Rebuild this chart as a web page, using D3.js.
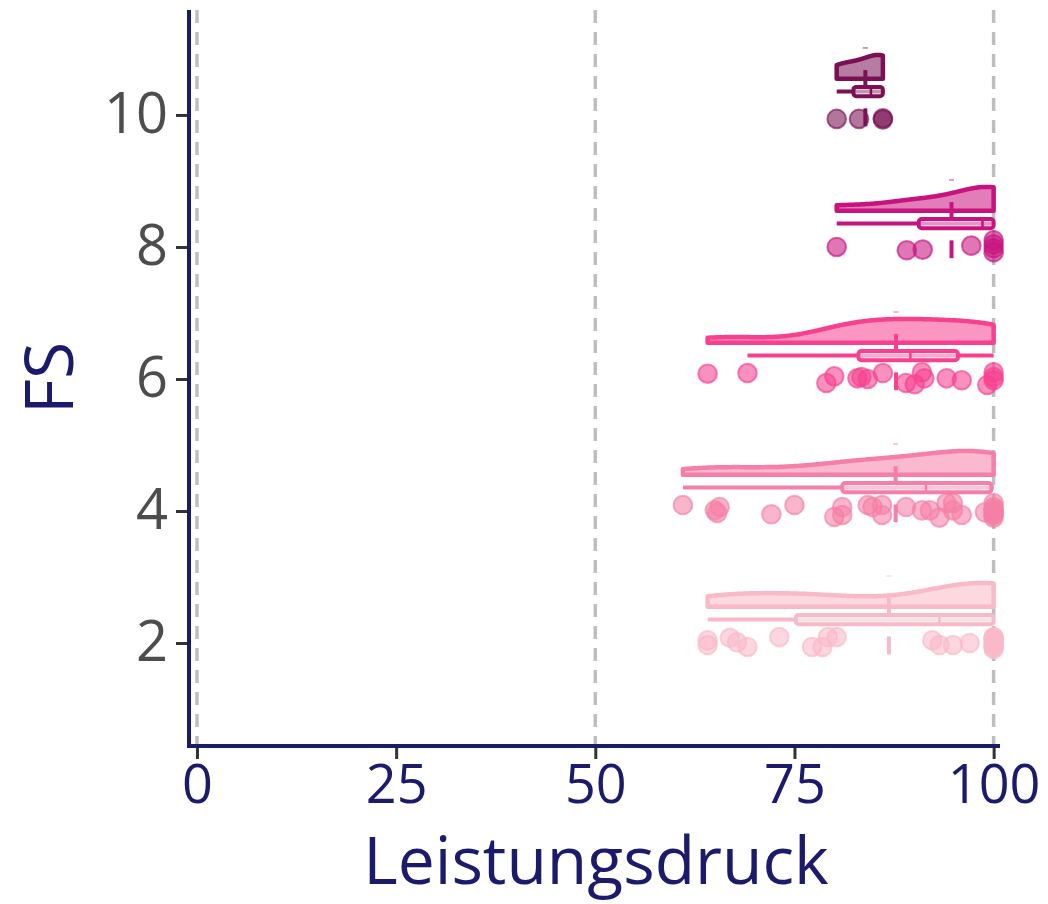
<!DOCTYPE html>
<html>
<head>
<meta charset="utf-8">
<script src="https://cdn.jsdelivr.net/npm/d3@7"></script>
<style>
  html, body { margin: 0; padding: 0; background: #fff; }
  svg { display: block; }
</style>
</head>
<body>
<svg id="chart" width="1048" height="904"></svg>
<script>
// FS groups (y categories) and their colours
const groups = [10, 8, 6, 4, 2];
const groupColors = ["#7B1154", "#C8137F", "#F7408F", "#F57FA6", "#FAB9C9"];

// Leistungsdruck scores per FS group
const scores10 = [80.3, 83.1, 86.1, 86.1];
const scores8  = [80.3, 89.1, 91.1, 97.2, 100, 100, 100, 100];
const scores6  = [64.1, 69.1, 79.0, 80.0, 82.9, 83.4, 84.2, 86.1, 89.0, 90.1, 91.0, 91.3, 94.1, 96.0, 99.2, 100, 100, 100];
const scores4  = [61, 65, 65.3, 65.6, 72.1, 75, 80, 81, 81, 84.2, 84.8, 86, 86, 89, 91, 92, 93.2, 94.1, 94.9, 94.9, 96, 98.9,
                  100, 100, 100, 100, 100, 100, 100, 100];
const scores2  = [64.1, 64.1, 66.9, 67.8, 69.1, 73.1, 77.2, 78.5, 79.2, 80.3, 92.3, 93.2, 94.9, 97,
                  100, 100, 100, 100, 100, 100, 100, 100, 100];

// vertical jitter of each point (FS units)
const jitter10 = [-0.06, -0.06, -0.05, -0.07];
const jitter8  = [0.0, -0.05, -0.04, 0.02, 0.1, 0.04, -0.02, -0.08];
const jitter6  = [0.08, 0.09, -0.06, 0.04, 0.01, 0.03, 0.0, 0.09, -0.06, -0.08, 0.1, 0.01, 0.01, -0.02, -0.09, 0.1, -0.02, 0.03];
const jitter4  = [0.09, 0.01, -0.03, 0.06, -0.05, 0.09, -0.09, 0.06, -0.06, 0.09, 0.06, 0.09, -0.06, 0.06, 0.01, 0.01, -0.1, 0.12,
                  0.12, 0.01, -0.06, -0.02, 0.12, 0.06, 0.0, -0.02, -0.06, -0.1, -0.05, 0.03];
const jitter2  = [0.04, -0.03, 0.08, 0.01, -0.06, 0.09, -0.06, -0.06, 0.09, 0.09, 0.04, -0.03, -0.03, 0.0,
                  0.09, 0.06, 0.03, 0.0, -0.03, -0.06, -0.09, 0.08, -0.05];

const xTicks = [0, 25, 50, 75, 100];
const yTicks = [2, 4, 6, 8, 10];
const dashedRefs = [0, 50, 100];

const scoreSets = [scores10, scores8, scores6, scores4, scores2];
const jitterSets = [jitter10, jitter8, jitter6, jitter4, jitter2];

const svg = d3.select("#chart");
const navy = "#1B1A6B";

const x = d3.scaleLinear().domain([-1, 100.8]).range([189, 1000]);
const y = d3.scaleLinear().domain([0.44, 11.59]).range([746, 10]);

// summary helpers
function quart(sorted, p) { return d3.quantileSorted(sorted, p); }
function kde(values, bw, xs) {
  const n = values.length;
  return xs.map(t => {
    let s = 0;
    for (const v of values) { const u = (t - v) / bw; s += Math.exp(-0.5 * u * u); }
    return s / (n * bw * Math.sqrt(2 * Math.PI));
  });
}
function nrd0(values) {
  const sd = d3.deviation(values);
  const s = values.slice().sort(d3.ascending);
  const iqr = quart(s, 0.75) - quart(s, 0.25);
  const lo = Math.min(sd, iqr / 1.34);
  return 0.9 * (lo > 0 ? lo : sd) * Math.pow(values.length, -0.2);
}

// reference lines
svg.append("g").selectAll("line").data(dashedRefs).join("line")
  .attr("x1", d => x(d)).attr("x2", d => x(d))
  .attr("y1", 10).attr("y2", 746)
  .attr("stroke", "#BEBEBE").attr("stroke-width", 3.5)
  .attr("stroke-dasharray", "13,9");

const violinOffset = 0.55;   // baseline of the half violin above the group
const violinHeight = 0.36;   // max height of the half violin
const boxOffset = 0.355;     // boxplot centre above the group
const boxHalf = 0.07;

const layer = svg.append("g");

groups.forEach((g, i) => {
  const col = groupColors[i];
  const vals = scoreSets[i];
  const jit = jitterSets[i];
  const sorted = vals.slice().sort(d3.ascending);
  const mean = d3.mean(vals);
  const q1 = quart(sorted, 0.25), med = quart(sorted, 0.5), q3 = quart(sorted, 0.75);
  const iqr = q3 - q1;
  const lowW = d3.min(sorted.filter(v => v >= q1 - 1.5 * iqr));
  const highW = d3.max(sorted.filter(v => v <= q3 + 1.5 * iqr));
  const gl = layer.append("g");

  // half violin (density, trimmed to the data range)
  const lo = sorted[0], hi = sorted[sorted.length - 1];
  const xs = d3.range(0, 201).map(k => lo + (hi - lo) * k / 200);
  const dens = kde(vals, nrd0(vals), xs);
  const dmax = d3.max(dens);
  const base = g + violinOffset;
  const pts = xs.map((t, k) => [x(t), y(base + violinHeight * dens[k] / dmax)]);
  const path = d3.path();
  path.moveTo(x(lo), y(base));
  pts.forEach(p => path.lineTo(p[0], p[1]));
  path.lineTo(x(hi), y(base));
  path.closePath();
  gl.append("path").attr("d", path.toString())
    .attr("fill", col).attr("fill-opacity", 0.55)
    .attr("stroke", col).attr("stroke-width", 4.5).attr("stroke-linejoin", "round");

  // boxplot
  const bc = g + boxOffset;
  gl.append("line")
    .attr("x1", x(lowW)).attr("x2", x(highW))
    .attr("y1", y(bc)).attr("y2", y(bc))
    .attr("stroke", col).attr("stroke-width", 4);
  gl.append("rect")
    .attr("x", x(q1)).attr("width", Math.max(0, x(q3) - x(q1)))
    .attr("y", y(bc + boxHalf)).attr("height", y(bc - boxHalf) - y(bc + boxHalf))
    .attr("rx", 3)
    .attr("fill", "#fff").attr("fill-opacity", 0.55)
    .attr("stroke", col).attr("stroke-width", 4).attr("stroke-linejoin", "round");
  gl.append("line")
    .attr("x1", x(med)).attr("x2", x(med))
    .attr("y1", y(bc + boxHalf)).attr("y2", y(bc - boxHalf))
    .attr("stroke", col).attr("stroke-width", 2.5);

  // mean marks
  gl.append("line")
    .attr("x1", x(mean)).attr("x2", x(mean))
    .attr("y1", y(g + 0.68)).attr("y2", y(g + 0.42))
    .attr("stroke", col).attr("stroke-width", 4);
  gl.append("line")
    .attr("x1", x(mean) - 2.5).attr("x2", x(mean) + 2.5)
    .attr("y1", y(g + 1.015)).attr("y2", y(g + 1.015))
    .attr("stroke", col).attr("stroke-opacity", 0.55).attr("stroke-width", 1.5);

  // raw points
  gl.append("g").selectAll("circle").data(vals).join("circle")
    .attr("cx", d => x(d))
    .attr("cy", (d, k) => y(g + jit[k]))
    .attr("r", 9.3)
    .attr("fill", col).attr("fill-opacity", 0.58)
    .attr("stroke", col).attr("stroke-opacity", 0.65).attr("stroke-width", 2);

  gl.append("line")
    .attr("x1", x(mean)).attr("x2", x(mean))
    .attr("y1", y(g + 0.1)).attr("y2", y(g - 0.17))
    .attr("stroke", col).attr("stroke-width", 4);
});

// axes
const yAxis = svg.append("g").attr("transform", "translate(189,0)")
  .call(d3.axisLeft(y).tickValues(yTicks).tickSize(13).tickPadding(8).tickFormat(d3.format("d")));
yAxis.select(".domain").remove();
yAxis.selectAll(".tick line").attr("stroke", "#333").attr("stroke-width", 3);
yAxis.selectAll(".tick text")
  .attr("fill", "#4D4D4D").attr("font-family", "'Open Sans', sans-serif").attr("font-size", 56);

const xAxis = svg.append("g").attr("transform", "translate(0,746)")
  .call(d3.axisBottom(x).tickValues(xTicks).tickSize(13).tickPadding(6).tickFormat(d3.format("d")));
xAxis.select(".domain").remove();
xAxis.selectAll(".tick line").attr("stroke", "#333").attr("stroke-width", 3);
xAxis.selectAll(".tick text")
  .attr("fill", navy).attr("font-family", "'Open Sans', sans-serif").attr("font-size", 54);

svg.append("line").attr("x1", 189).attr("x2", 189).attr("y1", 10).attr("y2", 748)
  .attr("stroke", navy).attr("stroke-width", 4);
svg.append("line").attr("x1", 187).attr("x2", 1000).attr("y1", 746).attr("y2", 746)
  .attr("stroke", navy).attr("stroke-width", 4);

// axis titles
svg.append("text")
  .attr("x", 596).attr("y", 884)
  .attr("text-anchor", "middle")
  .attr("fill", navy).attr("font-family", "'Open Sans', sans-serif").attr("font-size", 66)
  .text("Leistungsdruck");
svg.append("text")
  .attr("transform", "translate(73,378) rotate(-90)")
  .attr("text-anchor", "middle")
  .attr("fill", navy).attr("font-family", "'Open Sans', sans-serif").attr("font-size", 68)
  .text("FS");
</script>
</body>
</html>
